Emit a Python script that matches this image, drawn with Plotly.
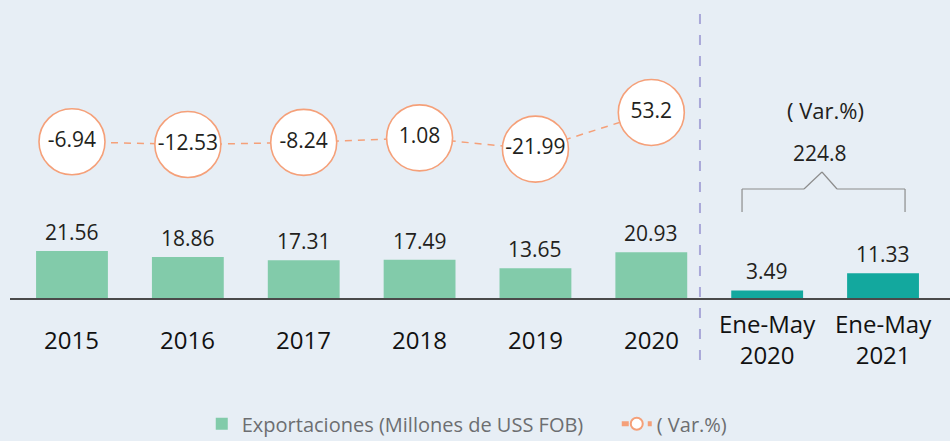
import plotly.graph_objects as go

# ---------------- data ----------------
categories = ["2015", "2016", "2017", "2018", "2019", "2020", "Ene-May 2020", "Ene-May 2021"]
tick_labels = ["2015", "2016", "2017", "2018", "2019", "2020", "Ene-May<br>2020", "Ene-May<br>2021"]
exports = [21.56, 18.86, 17.31, 17.49, 13.65, 20.93, 3.49, 11.33]
var_categories = ["2015", "2016", "2017", "2018", "2019", "2020"]
var_pct = [-6.94, -12.53, -8.24, 1.08, -21.99, 53.2]
period_var = 224.8

bar_name = "Exportaciones (Millones de USS FOB)"
line_name = "( Var.%)"

# ---------------- styles ----------------
BG = "#e7eef5"
GREEN = "#82cbaa"
TEAL = "#13a89e"
ORANGE = "#f5a079"
TXT = "#231f20"
FONT = "Open Sans"

bar_colors = [GREEN] * 6 + [TEAL] * 2

fig = go.Figure()

fig.add_trace(go.Bar(
    x=categories, y=exports, name=bar_name,
    marker=dict(color=bar_colors, line=dict(width=0)),
    yaxis="y", hoverinfo="x+y",
))

fig.add_trace(go.Scatter(
    x=var_categories, y=var_pct, name=line_name, yaxis="y2",
    mode="lines+markers+text",
    text=[f"{v:g}" for v in var_pct],
    textposition="middle center",
    textfont=dict(family=FONT, size=21, color=TXT),
    line=dict(color=ORANGE, width=1.5, dash="7px,6px"),
    marker=dict(size=66, color="white", line=dict(color=ORANGE, width=1.6)),
    cliponaxis=False,
))

annotations = []
# value labels above bars (category index positions)
for i, v in enumerate(exports):
    annotations.append(dict(
        x=i, y=v, xref="x", yref="y", text=f"{v:.2f}", showarrow=False,
        yanchor="bottom", yshift=3, font=dict(family=FONT, size=21, color=TXT)))
# category labels
for i, t in enumerate(tick_labels):
    annotations.append(dict(
        x=i, y=-0.138, xref="x", yref="paper", text=t, showarrow=False,
        yanchor="middle", font=dict(family=FONT, size=24, color="#111111")))
# period variation
annotations.append(dict(x=6.5, y=(298 - 110) / 298, xref="x", yref="paper",
                        text=line_name, showarrow=False, yanchor="middle",
                        font=dict(family=FONT, size=22, color=TXT)))
annotations.append(dict(x=6.46, y=(298 - 153) / 298, xref="x", yref="paper",
                        text=f"{period_var}", showarrow=False, yanchor="middle",
                        font=dict(family=FONT, size=21, color=TXT)))

def py(p):
    return (298 - p) / 298

shapes = [
    # dashed divider
    dict(type="line", xref="x", yref="paper", x0=5.42, x1=5.42, y0=py(14), y1=py(365),
         line=dict(color="#a9a8d8", width=2, dash="10px,11px")),
]
GR = "#8c8c8c"
bracket = [
    (5.783, py(212), 5.783, py(189)),
    (5.783, py(189), 6.318, py(189)),
    (6.318, py(189), 6.473, py(172)),
    (6.473, py(172), 6.603, py(189)),
    (6.603, py(189), 7.19, py(189)),
    (7.19, py(189), 7.19, py(212)),
]
for x0, y0, x1, y1 in bracket:
    shapes.append(dict(type="line", xref="x", yref="paper", x0=x0, y0=y0, x1=x1, y1=y1,
                       line=dict(color=GR, width=1.2)))

fig.update_layout(
    width=950, height=441,
    paper_bgcolor=BG, plot_bgcolor=BG,
    margin=dict(l=10, r=0, t=0, b=143, autoexpand=False),
    bargap=0.38,
    font=dict(family=FONT, color=TXT),
    xaxis=dict(type="category", range=[-0.535, 7.578], showticklabels=False,
               showgrid=False, zeroline=False, showline=True,
               linecolor="#4a4a4a", linewidth=1.5, ticks=""),
    yaxis=dict(range=[0, 136.7], visible=False, showgrid=False, zeroline=False),
    yaxis2=dict(range=[-327.1, 283.6], overlaying="y", visible=False,
                showgrid=False, zeroline=False),
    showlegend=True,
    legend=dict(orientation="h", x=0.204, xanchor="left", y=-0.422, yanchor="middle",
                font=dict(family=FONT, size=20, color="#6d6e71"),
                bgcolor="rgba(0,0,0,0)", itemsizing="constant",
                entrywidth=370, entrywidthmode="pixels"),
    annotations=annotations,
    shapes=shapes,
)

fig.write_html(
    "out.html",
    config={"displayModeBar": False},
    post_script="document.body.style.margin='0px';document.body.style.overflow='hidden';",
)
